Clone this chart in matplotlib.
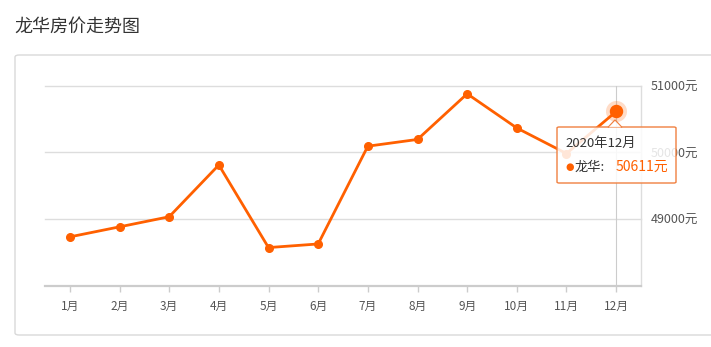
import matplotlib
matplotlib.use('Agg')
import matplotlib.pyplot as plt
from matplotlib.patches import FancyBboxPatch, Polygon

plt.rcParams['font.family'] = ['Noto Sans CJK SC', 'DejaVu Sans']

# 数据
months = ['1月', '2月', '3月', '4月', '5月', '6月', '7月', '8月', '9月', '10月', '11月', '12月']
prices = [48735, 48885, 49036, 49811, 48575, 48629, 50092, 50193, 50876, 50364, 49982, 50611]
y_ticks = [49000, 50000, 51000]
y_labels = ['49000元', '50000元', '51000元']
tip_title = '2020年12月'
tip_name = '龙华'

W, H = 711, 347
ORANGE = '#ff6000'

fig = plt.figure(figsize=(W / 100, H / 100), dpi=100)


def fx(px):
    return px / W


def fy(py):
    return 1 - py / H


# 标题和外框
fig.text(fx(14), fy(27), '龙华房价走势图', fontsize=13, color='#333333', va='center', ha='left')
box = FancyBboxPatch((fx(15), fy(335)), fx(720) - fx(15), fy(55) - fy(335),
                     boxstyle='round,pad=0,rounding_size=0.006', transform=fig.transFigure,
                     facecolor='white', edgecolor='#d9d9d9', linewidth=1, zorder=-1)
fig.patches.append(box)

ax = fig.add_axes([fx(45), fy(286), fx(641) - fx(45), fy(85.5) - fy(286)])
ax.set_facecolor('none')
x = list(range(1, len(months) + 1))

ax.set_xlim(0.5, 12.5)
ax.set_ylim(48000, 51000)
ax.set_yticks(y_ticks)
ax.set_yticklabels(y_labels)
ax.yaxis.tick_right()
ax.tick_params(axis='y', length=0, pad=7, labelsize=9, labelcolor='#555555')
ax.set_xticks(x)
ax.set_xticklabels(months)
ax.tick_params(axis='x', length=4, width=1, color='#cccccc', pad=6, labelsize=8.5, labelcolor='#555555')

for sp in ['top', 'left']:
    ax.spines[sp].set_visible(False)
ax.spines['right'].set_color('#dddddd')
ax.spines['right'].set_linewidth(1)
ax.spines['bottom'].set_color('#cccccc')
ax.spines['bottom'].set_linewidth(1.6)

for t in y_ticks:
    ax.axhline(t, color='#dddddd', lw=1, zorder=1, clip_on=False)

# 十字准线
ax.axvline(12, color='#cccccc', lw=0.8, zorder=1)

ax.plot(x, prices, color=ORANGE, lw=2, marker='o', markersize=5.5, zorder=3, clip_on=False)
ax.scatter([x[-1]], [prices[-1]], s=230, color=ORANGE, alpha=0.22, zorder=2, clip_on=False, linewidths=0)
ax.scatter([x[-1]], [prices[-1]], s=75, color=ORANGE, zorder=4, clip_on=False)

# 提示框
tip = FancyBboxPatch((fx(557), fy(183)), fx(676) - fx(557), fy(127) - fy(183),
                     boxstyle='round,pad=0,rounding_size=0.003', transform=fig.transFigure,
                     facecolor=(1, 1, 1, 0.85), edgecolor='#f08040', linewidth=1, zorder=5)
fig.patches.append(tip)
arrow = Polygon([(fx(608), fy(127.5)), (fx(615), fy(120)), (fx(622), fy(127.5))],
                closed=False, transform=fig.transFigure, facecolor='none',
                edgecolor='#f08040', linewidth=1, zorder=6)
fig.patches.append(arrow)
cover = Polygon([(fx(608.8), fy(127.2)), (fx(615), fy(121)), (fx(621.2), fy(127.2))],
                closed=True, transform=fig.transFigure, facecolor=(1, 1, 1, 0.85),
                edgecolor='none', zorder=6)
fig.patches.append(cover)

fig.text(fx(565), fy(143), tip_title, fontsize=9.5, color='#333333', va='center', ha='left', zorder=7)
fig.text(fx(565), fy(167), '●', fontsize=7, color=ORANGE, va='center', ha='left', family='DejaVu Sans', zorder=7)
fig.text(fx(575), fy(167), tip_name + ':', fontsize=9.5, color='#333333', va='center', ha='left', zorder=7)
fig.text(fx(616), fy(167), f'{prices[-1]}元', fontsize=10, color=ORANGE, va='center', ha='left', zorder=7)

fig.savefig('out.png', dpi=100)
